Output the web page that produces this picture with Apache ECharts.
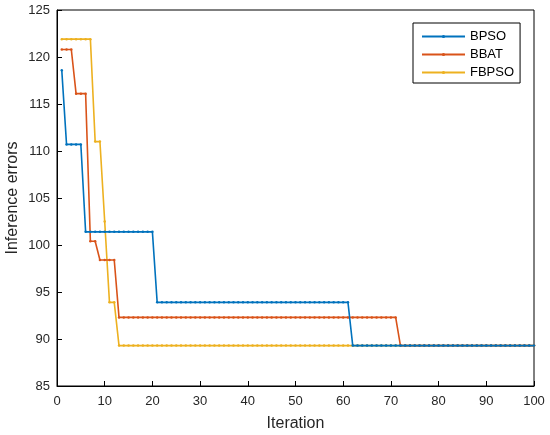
<!DOCTYPE html>
<html>
<head>
<meta charset="utf-8">
<script src="https://cdn.jsdelivr.net/npm/echarts@6/dist/echarts.min.js"></script>
<style>html,body{margin:0;padding:0;background:#fff;}#c{width:550px;height:435px;}</style>
</head>
<body>
<div id="c"></div>
<script>
var seriesNames = ['BPSO', 'BBAT', 'FBPSO'];
var iterations = [];
for (var i = 1; i <= 100; i++) iterations.push(i);

var bpso = [
  118.6, 110.7, 110.7, 110.7, 110.7, 101.4, 101.4, 101.4, 101.4, 101.4,
  101.4, 101.4, 101.4, 101.4, 101.4, 101.4, 101.4, 101.4, 101.4, 101.4,
  93.9, 93.9, 93.9, 93.9, 93.9, 93.9, 93.9, 93.9, 93.9, 93.9,
  93.9, 93.9, 93.9, 93.9, 93.9, 93.9, 93.9, 93.9, 93.9, 93.9,
  93.9, 93.9, 93.9, 93.9, 93.9, 93.9, 93.9, 93.9, 93.9, 93.9,
  93.9, 93.9, 93.9, 93.9, 93.9, 93.9, 93.9, 93.9, 93.9, 93.9,
  93.9, 89.3, 89.3, 89.3, 89.3, 89.3, 89.3, 89.3, 89.3, 89.3,
  89.3, 89.3, 89.3, 89.3, 89.3, 89.3, 89.3, 89.3, 89.3, 89.3,
  89.3, 89.3, 89.3, 89.3, 89.3, 89.3, 89.3, 89.3, 89.3, 89.3,
  89.3, 89.3, 89.3, 89.3, 89.3, 89.3, 89.3, 89.3, 89.3, 89.3
];
var bbat = [
  120.8, 120.8, 120.8, 116.1, 116.1, 116.1, 100.4, 100.4, 98.4, 98.4,
  98.4, 98.4, 92.3, 92.3, 92.3, 92.3, 92.3, 92.3, 92.3, 92.3,
  92.3, 92.3, 92.3, 92.3, 92.3, 92.3, 92.3, 92.3, 92.3, 92.3,
  92.3, 92.3, 92.3, 92.3, 92.3, 92.3, 92.3, 92.3, 92.3, 92.3,
  92.3, 92.3, 92.3, 92.3, 92.3, 92.3, 92.3, 92.3, 92.3, 92.3,
  92.3, 92.3, 92.3, 92.3, 92.3, 92.3, 92.3, 92.3, 92.3, 92.3,
  92.3, 92.3, 92.3, 92.3, 92.3, 92.3, 92.3, 92.3, 92.3, 92.3,
  92.3, 89.3, 89.3, 89.3, 89.3, 89.3, 89.3, 89.3, 89.3, 89.3,
  89.3, 89.3, 89.3, 89.3, 89.3, 89.3, 89.3, 89.3, 89.3, 89.3,
  89.3, 89.3, 89.3, 89.3, 89.3, 89.3, 89.3, 89.3, 89.3, 89.3
];
var fbpso = [
  121.9, 121.9, 121.9, 121.9, 121.9, 121.9, 121.9, 111.0, 111.0, 102.5,
  93.9, 93.9, 89.3, 89.3, 89.3, 89.3, 89.3, 89.3, 89.3, 89.3,
  89.3, 89.3, 89.3, 89.3, 89.3, 89.3, 89.3, 89.3, 89.3, 89.3,
  89.3, 89.3, 89.3, 89.3, 89.3, 89.3, 89.3, 89.3, 89.3, 89.3,
  89.3, 89.3, 89.3, 89.3, 89.3, 89.3, 89.3, 89.3, 89.3, 89.3,
  89.3, 89.3, 89.3, 89.3, 89.3, 89.3, 89.3, 89.3, 89.3, 89.3,
  89.3, 89.3, 89.3, 89.3, 89.3, 89.3, 89.3, 89.3, 89.3, 89.3,
  89.3, 89.3, 89.3, 89.3, 89.3, 89.3, 89.3, 89.3, 89.3, 89.3,
  89.3, 89.3, 89.3, 89.3, 89.3, 89.3, 89.3, 89.3, 89.3, 89.3,
  89.3, 89.3, 89.3, 89.3, 89.3, 89.3, 89.3, 89.3, 89.3, 89.3
];
var colors = ['#0072BD', '#D95319', '#EDB120'];
var values = [bpso, bbat, fbpso];

function pairs(arr) {
  return iterations.map(function (x, k) { return [x, arr[k]]; });
}

var FONT = 'Liberation Sans, Arial, Helvetica, sans-serif';
var chart = echarts.init(document.getElementById('c'), null, {renderer: 'canvas'});
chart.setOption({
  animation: false,
  backgroundColor: '#fff',
  color: colors,
  grid: {left: 57, right: 16, top: 10, bottom: 49, show: true, borderColor: '#000', borderWidth: 1,
         backgroundColor: 'transparent', containLabel: false, outerBoundsMode: 'none'},
  legend: {
    orient: 'vertical', left: 413, top: 23,
    padding: [7, 6, 4, 8], itemGap: 5, itemWidth: 43, itemHeight: 4,
    borderColor: '#000', borderWidth: 1, backgroundColor: '#fff',
    textStyle: {fontFamily: FONT, fontSize: 13, color: '#000'},
    data: seriesNames
  },
  xAxis: {
    type: 'value', min: 0, max: 100, interval: 10,
    name: 'Iteration', nameLocation: 'middle', nameGap: 30, nameMoveOverlap: false,
    nameTextStyle: {fontFamily: FONT, fontSize: 16, color: '#262626'},
    axisLine: {show: true, lineStyle: {color: '#000', width: 1}},
    axisTick: {show: true, inside: true, length: 5, lineStyle: {color: '#000'}},
    axisLabel: {fontFamily: FONT, fontSize: 13, color: '#262626', margin: 9},
    splitLine: {show: false}
  },
  yAxis: {
    type: 'value', min: 85, max: 125, interval: 5,
    name: 'Inference errors', nameLocation: 'middle', nameGap: 36, nameMoveOverlap: false,
    nameTextStyle: {fontFamily: FONT, fontSize: 16, color: '#262626'},
    axisLine: {show: true, lineStyle: {color: '#000', width: 1}},
    axisTick: {show: true, inside: true, length: 5, lineStyle: {color: '#000'}},
    axisLabel: {fontFamily: FONT, fontSize: 13, color: '#262626', margin: 7},
    splitLine: {show: false}
  },
  series: seriesNames.map(function (n, k) {
    return {
      name: n, type: 'line', data: pairs(values[k]),
      symbol: 'circle', symbolSize: 2.5, showSymbol: true,
      lineStyle: {color: colors[k], width: 1.6},
      itemStyle: {color: colors[k]},
      z: 3 - k
    };
  })
});
</script>
</body>
</html>
